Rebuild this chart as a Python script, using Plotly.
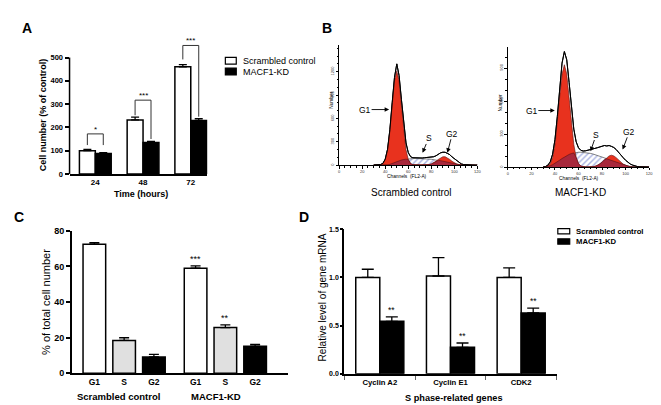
import plotly.graph_objects as go

W, H = 661, 405
FONT = "Liberation Sans, Arial, sans-serif"


def fx(p):
    return p / W


def fy(p):
    return 1 - p / H


# ---------------- Panel A data ----------------
a_time = ["24", "48", "72"]
a_ctrl = [100, 232, 460]
a_ctrl_err = [5, 12, 10]
a_kd = [88, 135, 230]
a_kd_err = [3, 5, 8]
a_sig = ["*", "***", "***"]
a_brk_top = [172, 317, 552]
a_brk_ctrl = [124, 252, 492]
a_brk_kd = [124, 150, 246]

# ---------------- Panel B data (flow cytometry, counts per channel) ----------------
b_channel = list(range(30, 121, 2))
b_ctrl_total = [2, 3, 4, 8, 24, 78, 205, 455, 800, 1125, 1300, 1150, 845, 515, 285, 160,
                108, 95, 92, 90, 93, 91, 95, 97, 100, 104, 108, 120, 140, 158, 166, 165,
                150, 135, 105, 80, 55, 32, 16, 8, 4, 2, 1, 1, 0, 0]
b_ctrl_g1 = [0, 0, 1, 5, 20, 71, 197, 436, 769, 1080, 1210, 1080, 769, 436, 197, 71, 20, 5, 1] + [0] * 27
b_ctrl_s = [0, 0, 0, 0, 0, 0, 3, 10, 22, 35, 48, 58, 66, 72, 77, 80, 82, 84, 85, 85, 85, 84,
            83, 81, 78, 75, 71, 67, 62, 57, 51, 44, 37, 29, 21, 14, 8, 4, 1, 0, 0, 0, 0, 0, 0, 0]
b_ctrl_g2 = [0] * 22 + [1, 3, 7, 15, 29, 49, 73, 95, 108, 108, 95, 73, 49, 29, 15, 7, 3, 1] + [0] * 6

b_kd_total = [1, 5, 18, 48, 118, 250, 460, 715, 945, 1050, 975, 770, 540, 345, 230, 175,
              152, 146, 148, 152, 158, 163, 170, 176, 183, 190, 196, 192, 196, 188, 178, 160,
              138, 112, 85, 62, 42, 28, 18, 10, 5, 3, 2, 1, 0, 0]
b_kd_g1 = [0, 2, 9, 31, 88, 205, 397, 637, 846, 930, 846, 637, 397, 205, 88, 31, 9, 2] + [0] * 28
b_kd_s = [0, 2, 6, 12, 22, 34, 48, 63, 78, 92, 104, 115, 123, 129, 133, 135, 135, 134, 132, 129,
          125, 120, 114, 107, 100, 92, 84, 76, 68, 60, 52, 44, 36, 28, 21, 15, 10, 6, 3, 1] + [0] * 6
b_kd_g2 = [0] * 20 + [1, 3, 7, 15, 27, 44, 66, 86, 102, 108, 102, 86, 66, 44, 27, 15, 7, 3, 1] + [0] * 7

# ---------------- Panel C data ----------------
c_phase = ["G1", "S", "G2"]
c_ctrl = [72.5, 18.4, 9.1]
c_ctrl_err = [0.8, 1.5, 1.5]
c_kd = [59.0, 25.6, 15.2]
c_kd_err = [1.3, 1.5, 1.0]
c_kd_sig = ["***", "**", ""]
c_colors = ["white", "#e0e0e0", "black"]

# ---------------- Panel D data ----------------
d_genes = ["Cyclin A2", "Cyclin E1", "CDK2"]
d_ctrl = [1.0, 1.015, 1.0]
d_ctrl_err = [0.085, 0.19, 0.1]
d_kd = [0.545, 0.275, 0.632]
d_kd_err = [0.047, 0.045, 0.05]
d_sig = ["**", "**", "**"]

fig = go.Figure()
shapes = []
anns = []


def ann(xp, yp, text, size, bold=False, angle=0, xanchor="center", yanchor="middle"):
    anns.append(dict(x=fx(xp), y=fy(yp), xref="paper", yref="paper", text=text,
                     showarrow=False, textangle=angle, xanchor=xanchor, yanchor=yanchor,
                     borderpad=0,
                     font=dict(size=size, family=FONT, color="black",
                               weight="bold" if bold else "normal")))


def err(vals):
    return dict(type="data", array=vals, arrayminus=[0] * len(vals), symmetric=False,
                color="black", thickness=1.3, width=4)


# ---------------- Panel A ----------------
a_x = list(range(len(a_time)))
fig.add_bar(x=a_x, y=a_ctrl, width=0.333, offset=-0.333, xaxis="x", yaxis="y",
            marker=dict(color="white", line=dict(color="black", width=1.5)),
            error_y=err(a_ctrl_err))
fig.add_bar(x=a_x, y=a_kd, width=0.333, offset=0, xaxis="x", yaxis="y",
            marker=dict(color="black", line=dict(color="black", width=1.5)),
            error_y=err(a_kd_err))
for i in a_x:
    xl, xr = i - 0.1667, i + 0.1667
    shapes.append(dict(type="path", xref="x", yref="y",
                       path=f"M {xl},{a_brk_ctrl[i]} L {xl},{a_brk_top[i]} L {xr},{a_brk_top[i]} L {xr},{a_brk_kd[i]}",
                       line=dict(color="#333", width=1)))
    anns.append(dict(x=i, y=a_brk_top[i], xref="x", yref="y", text=a_sig[i], showarrow=False,
                     yanchor="bottom", yshift=-1, borderpad=0,
                     font=dict(size=8, family=FONT, color="black")))
shapes.append(dict(type="line", xref="x domain", yref="y domain", x0=0, x1=0, y0=0, y1=500 / 580,
                   line=dict(color="black", width=1.5)))
ann(35, 104, "<b>Cell number (% of control)</b>", 9, angle=-90)
ann(133, 186, "<b>Time (hours)</b>", 9)
# legend A
shapes.append(dict(type="rect", xref="paper", yref="paper", x0=fx(218), x1=fx(229), y0=fy(45.5), y1=fy(52.5),
                   fillcolor="white", line=dict(color="black", width=1.2)))
shapes.append(dict(type="rect", xref="paper", yref="paper", x0=fx(218), x1=fx(229), y0=fy(56.5), y1=fy(63.5),
                   fillcolor="black", line=dict(color="black", width=1.2)))
ann(235, 49, "Scrambled control", 9, xanchor="left")
ann(235, 60, "MACF1-KD", 9, xanchor="left")


# ---------------- Panel B ----------------
def histo(xa, ya, total, g1, s, g2):
    ov = [min(sv, max(a, b)) for sv, a, b in zip(s, g1, g2)]
    fig.add_scatter(x=b_channel, y=total, xaxis=xa, yaxis=ya, mode="lines", fill="tozeroy",
                    fillcolor="white", line=dict(color="black", width=1))
    fig.add_scatter(x=b_channel, y=s, xaxis=xa, yaxis=ya, mode="lines", fill="tozeroy",
                    fillpattern=dict(shape="/", fgcolor="#4f63c4", bgcolor="white", size=4, solidity=0.35),
                    line=dict(color="#333", width=0.6))
    fig.add_scatter(x=b_channel, y=g1, xaxis=xa, yaxis=ya, mode="lines", fill="tozeroy",
                    fillcolor="#e8321e", line=dict(color="#5a1010", width=0.6))
    fig.add_scatter(x=b_channel, y=g2, xaxis=xa, yaxis=ya, mode="lines", fill="tozeroy",
                    fillcolor="#e8321e", line=dict(color="#5a1010", width=0.6))
    fig.add_scatter(x=b_channel, y=ov, xaxis=xa, yaxis=ya, mode="lines", fill="tozeroy",
                    fillcolor="#a8283c", line=dict(color="#5a1010", width=0.6))
    fig.add_scatter(x=b_channel, y=total, xaxis=xa, yaxis=ya, mode="lines",
                    line=dict(color="black", width=1))


histo("x3", "y3", b_ctrl_total, b_ctrl_g1, b_ctrl_s, b_ctrl_g2)
histo("x4", "y4", b_kd_total, b_kd_g1, b_kd_s, b_kd_g2)


def arrow(tipx, tipy, tx, ty, text):
    anns.append(dict(x=fx(tipx), y=fy(tipy), xref="paper", yref="paper", text=text,
                     showarrow=True, ax=tx - tipx, ay=ty - tipy, arrowhead=2, arrowsize=1,
                     arrowwidth=0.9, arrowcolor="black", standoff=0, startstandoff=0,
                     borderpad=0, font=dict(size=8.5, family=FONT, color="black")))


arrow(383, 99, 359, 99, "G1")
arrow(416.7, 143.3, 422.7, 129, "S")
arrow(441.7, 143.3, 446.7, 124.3, "G2")
arrow(550, 100, 527, 100, "G1")
arrow(586, 141.7, 591.7, 125, "S")
arrow(618.3, 140, 625, 122.3, "G2")
ann(401, 167.5, "Channels  (FL2-A)", 4.8)
ann(574, 169.5, "Channels  (FL2-A)", 4.8)
ann(325.5, 90, "Number", 4.8, angle=-90)
ann(495.5, 92, "Number", 4.8, angle=-90)
ann(405.8, 184, "Scrambled control", 10)
ann(576, 184, "MACF1-KD", 10)

# ---------------- Panel C ----------------
c_ctrl_x = list(range(len(c_phase)))
c_kd_x = [3.4 + i for i in range(len(c_phase))]
fig.add_bar(x=c_ctrl_x, y=c_ctrl, width=0.76, offset=-0.38, xaxis="x2", yaxis="y2",
            marker=dict(color=c_colors, line=dict(color="black", width=1.5)),
            error_y=dict(err(c_ctrl_err), width=5))
fig.add_bar(x=c_kd_x, y=c_kd, width=0.76, offset=-0.38, xaxis="x2", yaxis="y2",
            marker=dict(color=c_colors, line=dict(color="black", width=1.5)),
            error_y=dict(err(c_kd_err), width=5))
for xv, v, e, sg in zip(c_kd_x, c_kd, c_kd_err, c_kd_sig):
    if sg:
        anns.append(dict(x=xv, y=v + e, xref="x2", yref="y2", text=sg, showarrow=False,
                         yanchor="bottom", yshift=1, borderpad=0,
                         font=dict(size=9, family=FONT, color="black")))
ann(37, 296.5, "% of total cell number", 11, angle=-90)
ann(110.5, 393, "<b>Scrambled control</b>", 9.5)
ann(208.5, 393, "<b>MACF1-KD</b>", 9.5)

# ---------------- Panel D ----------------
fig.add_bar(x=d_genes, y=d_ctrl, width=0.34, offset=-0.34, xaxis="x5", yaxis="y5",
            marker=dict(color="white", line=dict(color="black", width=1.5)),
            error_y=dict(err(d_ctrl_err), width=6))
fig.add_bar(x=d_genes, y=d_kd, width=0.34, offset=0, xaxis="x5", yaxis="y5",
            marker=dict(color="black", line=dict(color="black", width=1.5)),
            error_y=dict(err(d_kd_err), width=6))
for i, (v, e, sg) in enumerate(zip(d_kd, d_kd_err, d_sig)):
    anns.append(dict(x=i + 0.17, y=v + e, xref="x5", yref="y5", text=sg, showarrow=False,
                     yanchor="bottom", yshift=1, borderpad=0,
                     font=dict(size=8.5, family=FONT, color="black")))
ann(316, 292, "Relative level of gene mRNA", 10, angle=-90)
ann(448, 395, "<b>S phase-related genes</b>", 9.2)
shapes.append(dict(type="rect", xref="paper", yref="paper", x0=fx(553), x1=fx(565), y0=fy(221), y1=fy(226.5),
                   fillcolor="white", line=dict(color="black", width=1.2)))
shapes.append(dict(type="rect", xref="paper", yref="paper", x0=fx(553), x1=fx(565), y0=fy(231.5), y1=fy(237),
                   fillcolor="black", line=dict(color="black", width=1.2)))
ann(570, 223.8, "<b>Scrambled control</b>", 7.7, xanchor="left")
ann(570, 234.3, "<b>MACF1-KD</b>", 7.7, xanchor="left")

# panel letters
ann(18.5, 15.5, "<b>A</b>", 14)
ann(320, 15.5, "<b>B</b>", 14)
ann(10, 209, "<b>C</b>", 14)
ann(297, 209, "<b>D</b>", 14)

base = dict(showgrid=False, zeroline=False, linecolor="black", tickcolor="black")


def bold(s):
    return dict(size=s, family=FONT, color="black", weight="bold")


fig.update_layout(
    width=W, height=H, margin=dict(l=0, r=0, t=0, b=0),
    paper_bgcolor="white", plot_bgcolor="white", barmode="overlay", showlegend=False,
    font=dict(family=FONT, color="black"),
    xaxis=dict(base, domain=[fx(61), fx(200)], range=[-0.54, 2.35], anchor="y", showline=True,
               linewidth=1.5, tickvals=a_x, ticktext=a_time, ticks="", tickfont=bold(8)),
    yaxis=dict(base, domain=[fy(165), fy(26.6)], range=[0, 580], anchor="x", showline=False,
               tickvals=[0, 100, 200, 300, 400, 500], ticks="outside", ticklen=4, tickwidth=1.5,
               tickfont=bold(7.5)),
    xaxis2=dict(base, domain=[fx(63.3), fx(281)], range=[-0.757, 6.5], anchor="y2", showline=True,
                linewidth=1.5, tickvals=c_ctrl_x + c_kd_x, ticktext=c_phase + c_phase, ticks="",
                tickfont=bold(8.5)),
    yaxis2=dict(base, domain=[fy(369.3), fy(223.3)], range=[0, 80], anchor="x2", showline=True,
                linewidth=1.5, dtick=20, ticks="outside", ticklen=4, tickwidth=1.5, tickfont=bold(9)),
    xaxis3=dict(base, domain=[fx(332.7), fx(472)], range=[0, 120], anchor="y3", showline=True,
                linewidth=0.8, dtick=20, ticks="outside", ticklen=2.5, tickwidth=0.7,
                minor=dict(dtick=5, ticks="outside", ticklen=1.5, tickwidth=0.6, tickcolor="black"),
                tickfont=dict(size=4, color="#333")),
    yaxis3=dict(base, domain=[fy(156), fy(33)], range=[0, 1540], anchor="x3", showline=True,
                linewidth=0.8, tickvals=[0, 300, 600, 900, 1200], ticks="outside", ticklen=2.5,
                tickwidth=0.7, tickangle=-90,
                minor=dict(dtick=100, ticks="outside", ticklen=1.5, tickwidth=0.6, tickcolor="black"),
                tickfont=dict(size=4, color="#333")),
    xaxis4=dict(base, domain=[fx(502.7), fx(645)], range=[0, 120], anchor="y4", showline=True,
                linewidth=0.8, dtick=20, ticks="outside", ticklen=2.5, tickwidth=0.7,
                minor=dict(dtick=5, ticks="outside", ticklen=1.5, tickwidth=0.6, tickcolor="black"),
                tickfont=dict(size=4, color="#333")),
    yaxis4=dict(base, domain=[fy(158), fy(35)], range=[0, 1090], anchor="x4", showline=True,
                linewidth=0.8, tickvals=[0, 300, 600, 900], ticks="outside", ticklen=2.5,
                tickwidth=0.7, tickangle=-90,
                minor=dict(dtick=100, ticks="outside", ticklen=1.5, tickwidth=0.6, tickcolor="black"),
                tickfont=dict(size=4, color="#333")),
    xaxis5=dict(base, domain=[fx(338), fx(551.7)], range=[-0.5, 2.5], anchor="y5", showline=True,
                linewidth=1.5, type="category", ticks="outside", tickson="boundaries", ticklen=4,
                tickwidth=1, tickcolor="#666", tickfont=bold(7.7)),
    yaxis5=dict(base, domain=[fy(370), fy(221.7)], range=[0, 1.5], anchor="x5", showline=True,
                linewidth=1.5, dtick=0.5, tickformat=".1f", ticks="outside", ticklen=2.5, tickwidth=1.5,
                tickfont=bold(7)),
    shapes=shapes, annotations=anns,
)

fig.write_html("out.html")
